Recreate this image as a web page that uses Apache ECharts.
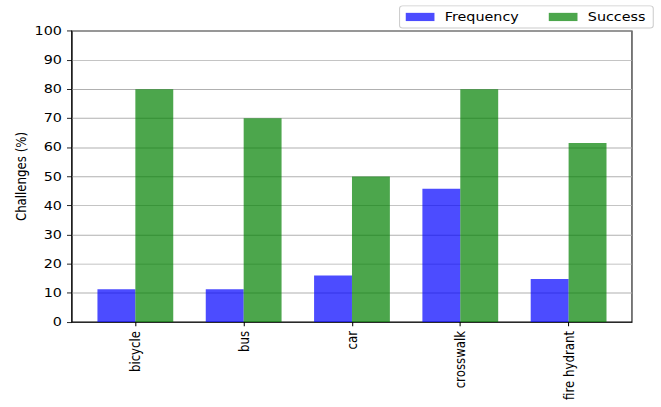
<!DOCTYPE html>
<html><head><meta charset="utf-8">
<script src="https://cdn.jsdelivr.net/npm/echarts@6/dist/echarts.min.js"></script>
<style>
html,body{margin:0;padding:0;background:#fff;overflow:hidden;width:661px;height:407px}
#c{width:640px;height:480px;transform:scale(1.0328,0.8479);transform-origin:0 0}
</style>
</head><body><div id="c"></div>
<script>
const categories = ['bicycle', 'bus', 'car', 'crosswalk', 'fire hydrant'];
const frequency = [11.3, 11.3, 16.0, 45.8, 14.8];
const success = [80, 70, 50, 80, 61.5];
const yTicks = [0, 10, 20, 30, 40, 50, 60, 70, 80, 90, 100];

const idx = categories.map((_, i) => i);
const font = 'DejaVu Sans';
const fs = 13.89;
const chart = echarts.init(document.getElementById('c'), null, {renderer: 'svg'});
chart.setOption({
  animation: false,
  backgroundColor: '#fff',
  textStyle: {fontFamily: font},
  legend: {
    top: 7, right: 7.5,
    data: ['Frequency', 'Success'],
    icon: 'rect',
    itemWidth: 27.8, itemHeight: 9.7, itemGap: 29,
    borderColor: '#cccccc', borderWidth: 1, borderRadius: 3,
    padding: [6, 7.5, 6, 6],
    textStyle: {fontFamily: font, fontSize: fs, color: '#000', padding: [0, 0, 0, 5]}
  },
  grid: {left: 69.7, right: 28.1, top: 36.6, bottom: 100.2, show: true, borderColor: '#000', borderWidth: 1, containLabel: false},
  xAxis: {
    type: 'value', min: -0.585, max: 4.585,
    splitLine: {show: false},
    axisLine: {show: true, onZero: false, lineStyle: {color: '#000', width: 1}},
    axisTick: {show: true, length: 4.86, lineStyle: {color: '#000'}, customValues: idx},
    axisLabel: {
      customValues: idx, rotate: 90, fontSize: fs, color: '#000', fontFamily: font, margin: 10.5,
      formatter: v => categories[Math.round(v)] ?? ''
    }
  },
  yAxis: {
    type: 'value', min: yTicks[0], max: yTicks[yTicks.length - 1], interval: 10,
    name: 'Challenges (%)', nameLocation: 'middle', nameGap: 42, nameMoveOverlap: false,
    nameTextStyle: {fontFamily: font, fontSize: fs, color: '#000'},
    axisLine: {show: true, onZero: false, lineStyle: {color: '#000', width: 1}},
    axisTick: {show: true, length: 4.86, lineStyle: {color: '#000'}},
    axisLabel: {fontSize: fs, color: '#000', fontFamily: font, margin: 9.7},
    splitLine: {show: true, lineStyle: {color: '#b0b0b0', width: 1.1}}
  },
  series: [
    {name: 'Frequency', type: 'bar', barWidth: 36.7, barGap: '0%',
     itemStyle: {color: '#0000ff', opacity: 0.7},
     data: frequency.map((v, i) => [i, v])},
    {name: 'Success', type: 'bar', barWidth: 36.7, barGap: '0%',
     itemStyle: {color: '#008000', opacity: 0.7},
     data: success.map((v, i) => [i, v])}
  ]
});
</script></body></html>
